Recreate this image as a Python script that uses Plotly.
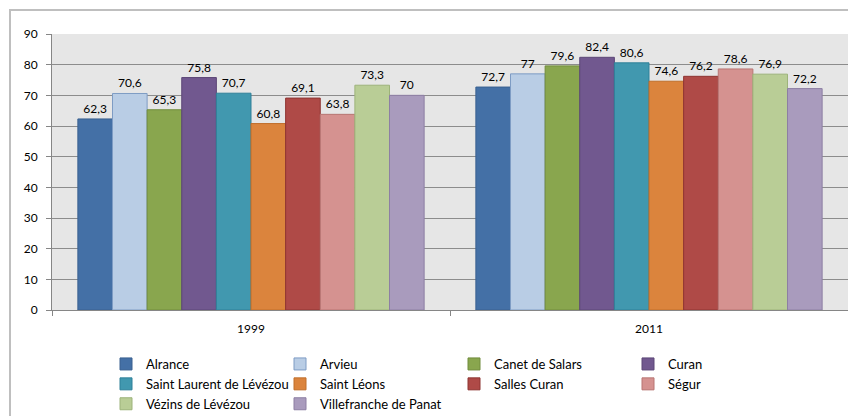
import plotly.graph_objects as go

years = ["1999", "2011"]
communes = ["Alrance", "Arvieu", "Canet de Salars", "Curan", "Saint Laurent de Lévézou",
            "Saint Léons", "Salles Curan", "Ségur", "Vézins de Lévézou", "Villefranche de Panat"]
alrance = [62.3, 72.7]
arvieu = [70.6, 77]
canet = [65.3, 79.6]
curan = [75.8, 82.4]
saint_laurent = [70.7, 80.6]
saint_leons = [60.8, 74.6]
salles_curan = [69.1, 76.2]
segur = [63.8, 78.6]
vezins = [73.3, 76.9]
villefranche = [70, 72.2]
series = [alrance, arvieu, canet, curan, saint_laurent, saint_leons, salles_curan, segur, vezins, villefranche]

fills = ["#4470A6", "#B9CDE5", "#89A64E", "#71588F", "#4198AF",
         "#DB843D", "#AF4A47", "#D59290", "#B9CD96", "#A99BBD"]
edges = ["#3A6190", "#7E9CC4", "#718C3C", "#5C4676", "#2F8099",
         "#C06E2A", "#8E3432", "#B87573", "#9DB37A", "#8D7FA3"]

def fmt(v):
    s = ("%g" % v)
    return s.replace(".", ",")

fig = go.Figure()
for name, vals, fc, ec in zip(communes, series, fills, edges):
    fig.add_trace(go.Bar(
        x=years, y=vals, name=name,
        marker=dict(color=fc, line=dict(color=ec, width=1)),
        text=[fmt(v) for v in vals], textposition="outside",
        textfont=dict(size=12, color="#000000"),
        cliponaxis=False,
    ))

# page body has an 8px margin: the figure is drawn 8px in from the window edge
OFF = 8
W, H = 856 - OFF, 416 - OFF
ml, mr, mt, mb = 52 - OFF, 8, 34 - OFF, 106
pw, ph = W - ml - mr, H - mt - mb

def px_to_paper_x(px):
    # px: screen pixel coordinate
    return (px - OFF - ml) / pw

def px_to_paper_y(py):
    return (H - mb - (py - OFF)) / ph

fig.update_layout(
    width=W, height=H,
    margin=dict(l=ml, r=mr, t=mt, b=mb, autoexpand=False),
    paper_bgcolor="white", plot_bgcolor="#E6E6E6",
    font=dict(family="Lato, Liberation Sans, sans-serif", size=12, color="#000000"),
    barmode="group", bargap=0.13, bargroupgap=0,
    showlegend=True,
    legend=dict(orientation="h", x=px_to_paper_x(106), y=px_to_paper_y(349),
                xanchor="left", yanchor="top",
                entrywidth=129, entrywidthmode="pixels",
                itemwidth=30, tracegroupgap=0,
                font=dict(size=13), bgcolor="rgba(0,0,0,0)"),
    xaxis=dict(showgrid=False, showline=True, linecolor="#868686", linewidth=1,
               ticks="outside", tickson="boundaries", ticklen=5, tickcolor="#868686",
               ticklabelstandoff=8, tickfont=dict(size=12)),
    yaxis=dict(range=[0, 90], dtick=10, showgrid=True, gridcolor="#8C8C8C", gridwidth=1,
               showline=True, linecolor="#868686", linewidth=1,
               ticks="outside", ticklen=5, tickcolor="#868686", zeroline=False,
               ticklabelstandoff=6, tickfont=dict(size=12)),
    shapes=[dict(type="rect", xref="paper", yref="paper",
                 x0=px_to_paper_x(10), x1=px_to_paper_x(880),
                 y0=px_to_paper_y(440), y1=px_to_paper_y(10),
                 line=dict(color="#BFBFBF", width=2), fillcolor="rgba(0,0,0,0)",
                 layer="below")],
)

fig.write_html("out.html")
